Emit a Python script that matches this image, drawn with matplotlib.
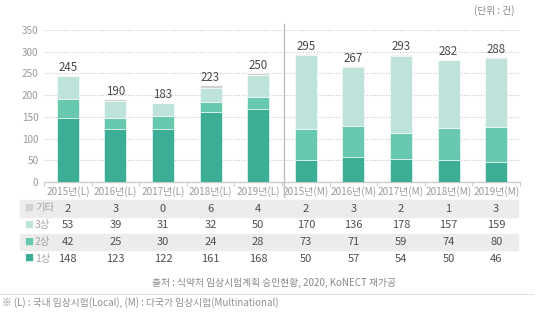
import matplotlib
matplotlib.use("Agg")
import matplotlib.pyplot as plt
from matplotlib.transforms import blended_transform_factory
from matplotlib.patches import Rectangle
from matplotlib.lines import Line2D

plt.rcParams['font.family'] = ['Noto Sans CJK KR', 'DejaVu Sans']

# data
categories = ['2015년(L)', '2016년(L)', '2017년(L)', '2018년(L)', '2019년(L)',
              '2015년(M)', '2016년(M)', '2017년(M)', '2018년(M)', '2019년(M)']
phase1 = [148, 123, 122, 161, 168, 50, 57, 54, 50, 46]
phase2 = [42, 25, 30, 24, 28, 73, 71, 59, 74, 80]
phase3 = [53, 39, 31, 32, 50, 170, 136, 178, 157, 159]
other = [2, 3, 0, 6, 4, 2, 3, 2, 1, 3]
totals = [245, 190, 183, 223, 250, 295, 267, 293, 282, 288]
y_ticks = [0, 50, 100, 150, 200, 250, 300, 350]

C1, C2, C3, C4 = '#3dae96', '#68c7af', '#bde3db', '#d2d2d2'
W, H = 547, 324

fig = plt.figure(figsize=(W / 100, H / 100), dpi=100, facecolor='white')
ax = fig.add_axes([44 / W, 1 - 182 / H, (520 - 44) / W, (182 - 30) / H])

x = list(range(len(categories)))
bw = 0.46
b = [0] * len(x)
for vals, col in [(phase1, C1), (phase2, C2), (phase3, C3), (other, C4)]:
    ax.bar(x, vals, bw, bottom=b, color=col, edgecolor='white', linewidth=0.4, zorder=3)
    b = [p + q for p, q in zip(b, vals)]

for xi, t, top in zip(x, totals, b):
    ax.text(xi, top + 3, str(t), ha='center', va='bottom', fontsize=8.3,
            color='#4a4a4a', fontweight='medium')

ax.set_xlim(-0.5, len(x) - 0.5)
ax.set_ylim(0, 350)
ax.set_yticks(y_ticks)
ax.set_yticklabels([str(v) for v in y_ticks])
ax.tick_params(axis='y', length=0, labelsize=7.2, labelcolor='#9a9a9a', pad=4)
ax.set_xticks(x)
ax.set_xticklabels(categories)
ax.tick_params(axis='x', length=0, labelsize=7.2, labelcolor='#9a9a9a', pad=3)
ax.set_xticks([i + 0.5 for i in range(-1, len(x))], minor=True)
ax.tick_params(axis='x', which='minor', length=3, color='#cccccc', width=0.8)
for v in y_ticks[1:]:
    ax.axhline(v, color='#c8c8c8', linestyle=(0, (1, 1.5)), linewidth=0.8, zorder=1)
for s in ['top', 'right', 'left']:
    ax.spines[s].set_visible(False)
ax.spines['bottom'].set_color('#cccccc')
ax.spines['bottom'].set_linewidth(1.0)

# separator between L and M
fig.add_artist(Line2D([283.5 / W, 283.5 / W], [1 - 24 / H, 1 - 197 / H],
                      color='#bbbbbb', linewidth=0.9, transform=fig.transFigure))

# table under the chart
tr = blended_transform_factory(ax.transData, fig.transFigure)
rows = [('기타', C4, other, True), ('3상', C3, phase3, False),
        ('2상', C2, phase2, True), ('1상', C1, phase1, False)]
for i, (name, col, vals, shade) in enumerate(rows):
    yc = 208.5 + i * 16.7
    if shade:
        fig.add_artist(Rectangle((20 / W, 1 - (yc + 8.3) / H), (518 - 20) / W, 16.6 / H,
                                 color='#ececec', transform=fig.transFigure, zorder=0))
    fig.text(24 / W, 1 - yc / H, '■', fontsize=6.5, color=col, va='center', ha='left')
    fig.text(35 / W, 1 - yc / H, name, fontsize=7.5, color='#a5a5a5', va='center', ha='left')
    for xi, v in zip(x, vals):
        ax.text(xi, 1 - yc / H, str(v), transform=tr, ha='center', va='center',
                fontsize=8, color='#4f4f4f')

fig.text(514 / W, 1 - 11 / H, '(단위 : 건)', fontsize=7, color='#888888', ha='right', va='center')
fig.text(274 / W, 1 - 283 / H, '출처 : 식약처 임상시험계획 승인현황, 2020, KoNECT 재가공',
         fontsize=7, color='#888888', ha='center', va='center')
fig.add_artist(Line2D([0, 533 / W], [1 - 294 / H, 1 - 294 / H], color='#e2e2e2',
                      linewidth=0.8, transform=fig.transFigure))
fig.text(2 / W, 1 - 303 / H, '※ (L) : 국내 임상시험(Local), (M) : 다국가 임상시험(Multinational)',
         fontsize=7, color='#909090', ha='left', va='center')

fig.savefig('out.png', dpi=100, facecolor='white')
